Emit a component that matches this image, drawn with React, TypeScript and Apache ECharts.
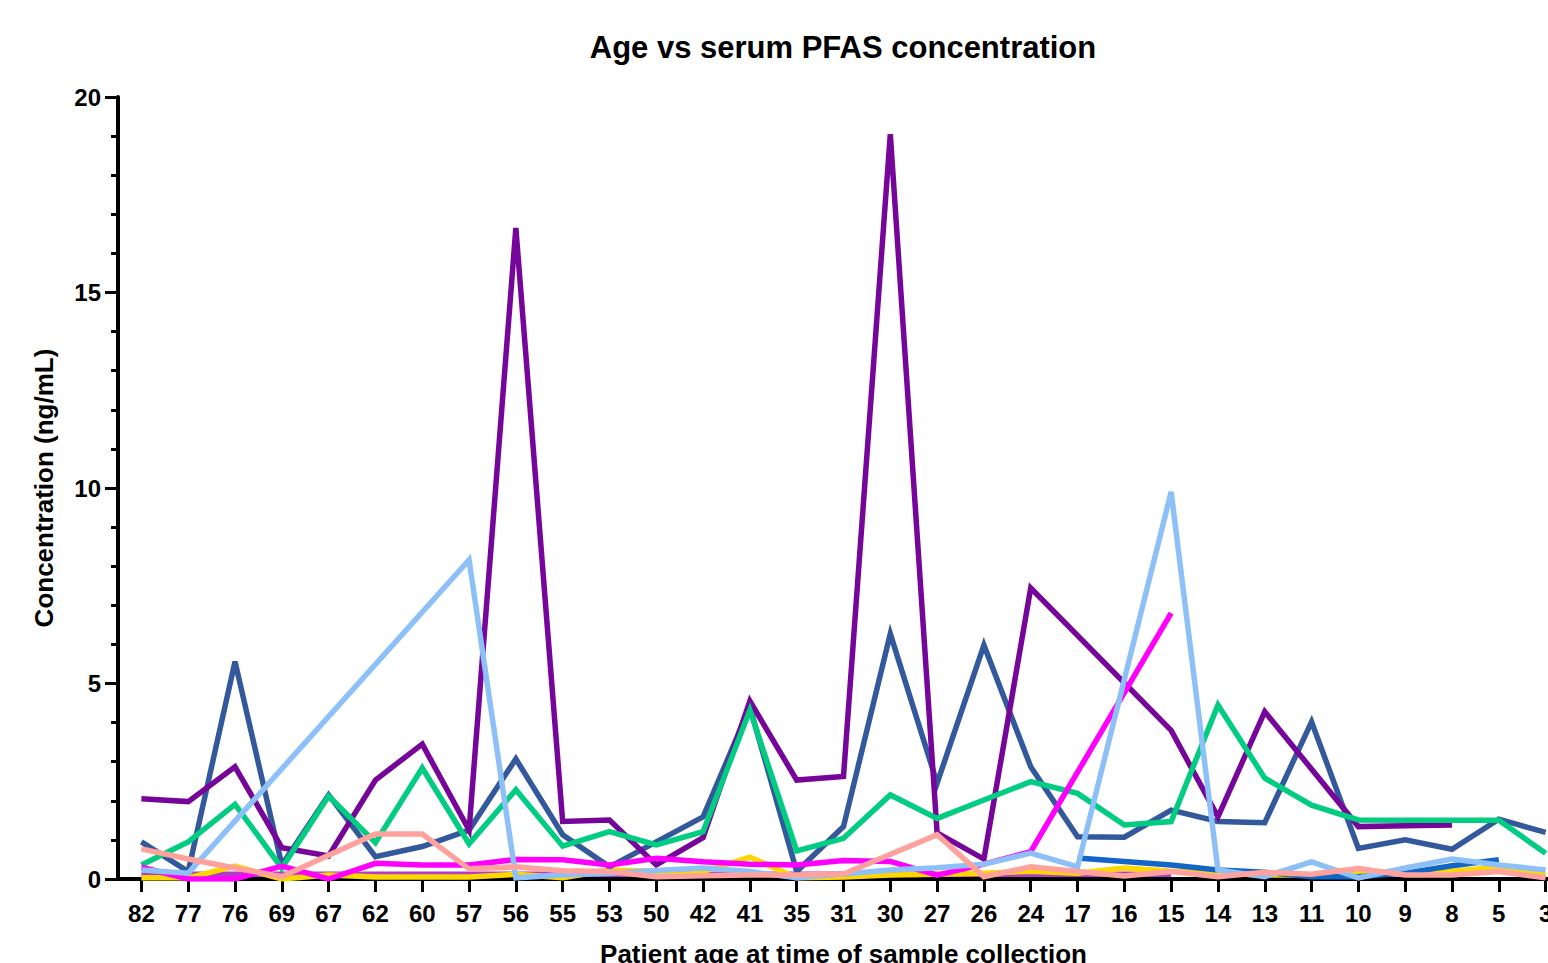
import React, { useEffect, useRef } from "react";
import * as echarts from "echarts";

const ages = ["82","77","76","69","67","62","60","57","56","55","53","50","42","41","35","31","30","27","26","24","17","16","15","14","13","11","10","9","8","5","3"];

const purple = [2.05,1.98,2.87,0.8,0.59,2.53,3.45,1.25,16.65,1.47,1.51,0.36,1.06,4.55,2.53,2.62,19.05,1.18,0.51,7.44,null,null,3.8,1.59,4.28,null,1.34,1.36,1.38,null,null];
const darkBlue = [0.95,0.19,5.56,0.36,2.15,0.57,0.83,1.25,3.07,1.13,0.31,0.95,1.59,4.4,0.19,1.34,6.27,2.45,5.98,2.87,1.08,1.07,1.76,1.47,1.44,4.02,0.78,1.0,0.76,1.53,1.19];
const green = [0.36,0.95,1.91,0.28,2.12,0.93,2.84,0.9,2.28,0.84,1.21,0.87,1.21,4.32,0.72,1.04,2.15,1.55,2.02,2.49,2.19,1.38,1.47,4.45,2.58,1.89,1.51,1.5,1.5,1.5,0.66];
const lightBlue = [0.23,0.15,null,null,null,null,null,8.16,0.03,0.1,0.15,0.22,0.28,0.19,0.03,0.13,0.23,0.29,0.38,0.66,0.31,null,9.9,0.23,0.06,0.44,0.03,0.28,0.51,0.36,0.23];
const magenta = [0.3,0,0,0.33,0,0.4,0.36,0.36,0.5,0.49,0.36,0.53,0.44,0.38,0.36,0.47,0.45,0.1,0.38,0.7,null,null,6.8,null,null,null,null,null,null,null,null];
const salmon = [0.77,0.51,0.28,0.06,0.61,1.15,1.15,0.26,0.31,0.21,0.19,0.06,0.08,0.1,0.1,0.13,null,1.13,0.06,0.31,0.19,0.08,0.19,0.06,0.17,0.12,0.27,0.1,0.1,0.19,0.03];
const yellow = [0.03,0.03,0.33,0,0.1,0.05,0.05,0.05,0.12,0.03,0.23,0.2,0.19,0.56,0.03,0.05,0.1,0.12,0.15,0.2,0.15,0.28,0.2,0.15,0.1,0.1,0.2,0.15,0.2,0.3,0.1];
const blue = [null,null,null,null,null,null,null,null,null,null,null,null,null,null,null,null,null,null,null,null,0.54,0.45,0.36,0.23,0.17,0.06,0.06,0.15,0.34,0.49,null];
const violet = [0.12,0.12,0.12,0.12,0.12,0.12,0.12,0.12,0.12,0.12,0.12,0.12,0.12,0.12,0.12,0.12,0.12,0.12,0.12,0.12,0.12,0.12,0.12,null,null,null,null,null,null,null,null];

const FONT = "'Liberation Sans', Arial, Helvetica, sans-serif";

const seriesDefs: [string, (number | null)[], string][] = [
  ["Violet", violet, "#B03CC8"],
  ["Yellow", yellow, "#FFD700"],
  ["Blue", blue, "#1466C6"],
  ["Dark blue", darkBlue, "#33589C"],
  ["Purple", purple, "#76069A"],
  ["Green", green, "#00CC82"],
  ["Magenta", magenta, "#FF00FF"],
  ["Light blue", lightBlue, "#8EC0F8"],
  ["Salmon", salmon, "#FFA29E"],
];

export default function App() {
  const ref = useRef<HTMLDivElement>(null);
  useEffect(() => {
    if (!ref.current) return;
    const chart = echarts.init(ref.current, undefined, { renderer: "svg" });
    chart.setOption({
      animation: false,
      backgroundColor: "#ffffff",
      graphic: [
        {
          type: "text",
          x: 843,
          y: 47,
          style: {
            text: "Age vs serum PFAS concentration",
            align: "center",
            verticalAlign: "middle",
            fontSize: 31,
            fontWeight: "bold",
            fontFamily: FONT,
            fill: "#000",
          },
        },
      ],
      grid: {
        left: 118,
        right: -21,
        top: 97,
        bottom: 84,
        containLabel: false,
        outerBoundsMode: "none",
      },
      xAxis: {
        type: "category",
        data: ages,
        boundaryGap: true,
        name: "Patient age at time of sample collection",
        nameLocation: "middle",
        nameGap: 62,
        nameTextStyle: { fontSize: 26, fontWeight: "bold", fontFamily: FONT, color: "#000" },
        axisLine: { lineStyle: { color: "#000", width: 4 } },
        axisTick: { show: true, alignWithLabel: true, length: 13, lineStyle: { color: "#000", width: 3 } },
        axisLabel: { fontSize: 24, fontWeight: "bold", fontFamily: FONT, color: "#000", margin: 22, interval: 0 },
        splitLine: { show: false },
      },
      yAxis: {
        type: "value",
        min: 0,
        max: 20,
        interval: 5,
        name: "Concentration (ng/mL)",
        nameLocation: "middle",
        nameGap: 61,
        nameRotate: 90,
        nameTextStyle: { fontSize: 26, fontWeight: "bold", fontFamily: FONT, color: "#000" },
        axisLine: { show: true, lineStyle: { color: "#000", width: 4 } },
        axisTick: { show: true, length: 13, lineStyle: { color: "#000", width: 3 } },
        minorTick: { show: true, splitNumber: 5, length: 7, lineStyle: { color: "#000", width: 3 } },
        axisLabel: { fontSize: 24, fontWeight: "bold", fontFamily: FONT, color: "#000", margin: 17 },
        splitLine: { show: false },
        minorSplitLine: { show: false },
      },
      series: seriesDefs.map(([name, data, color]) => ({
        name,
        type: "line",
        data,
        connectNulls: true,
        showSymbol: false,
        symbol: "none",
        lineStyle: { color, width: 5.5, join: "miter" },
        itemStyle: { color },
        emphasis: { disabled: true },
      })),
    });
    return () => chart.dispose();
  }, []);
  return (
    <div
      ref={ref}
      style={{ position: "absolute", left: 0, top: 0, width: 1548, height: 963, overflow: "hidden" }}
    />
  );
}
